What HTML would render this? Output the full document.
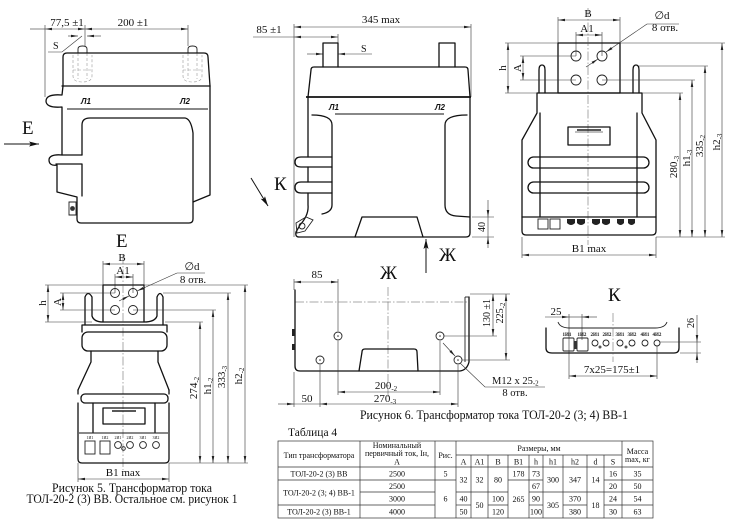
<!DOCTYPE html>
<html><head><meta charset="utf-8"><style>
html,body{margin:0;padding:0;background:#fff}
svg{display:block}
.o{fill:none;stroke:#111;stroke-width:1.3;stroke-linejoin:round;stroke-linecap:round}
.t{fill:none;stroke:#222;stroke-width:0.9}
.d{fill:none;stroke:#333;stroke-width:0.6}
.c{fill:none;stroke:#555;stroke-width:0.5;stroke-dasharray:9 2 1.5 2}
.h{fill:none;stroke:#999;stroke-width:0.6;stroke-dasharray:3 2}
.g{fill:none;stroke:#333;stroke-width:0.7}
text{font-family:"Liberation Serif",serif;fill:#111}
.l{font-family:"Liberation Sans",sans-serif;font-weight:bold;font-style:italic;font-size:8px}
.tb{font-size:8px;text-anchor:middle}
</style></head><body>
<svg width="732" height="528" viewBox="0 0 732 528" xmlns="http://www.w3.org/2000/svg">
<defs>
<marker id="a" viewBox="0 0 10 4" refX="10" refY="2" markerWidth="7" markerHeight="2.8" orient="auto-start-reverse" markerUnits="userSpaceOnUse"><path d="M0,0.2 L10,2 L0,3.8z" fill="#222"/></marker>
<marker id="b" viewBox="0 0 10 5" refX="10" refY="2.5" markerWidth="10" markerHeight="5" orient="auto-start-reverse" markerUnits="userSpaceOnUse"><path d="M0,0 L10,2.5 L0,5 L2,2.5z" fill="#111"/></marker>
</defs>

<!-- ============ TOP-LEFT FIGURE ============ -->
<line class="d" x1="30" y1="29" x2="45" y2="29"/>
<line class="d" x1="45" y1="29" x2="85" y2="29" marker-start="url(#a)" marker-end="url(#a)"/>
<line class="d" x1="85" y1="29" x2="188" y2="29" marker-start="url(#a)" marker-end="url(#a)"/>
<line class="d" x1="45" y1="25" x2="45" y2="97"/>
<line class="d" x1="85" y1="25" x2="85" y2="46"/>
<line class="d" x1="188" y1="25" x2="188" y2="46"/>
<text x="67" y="26" font-size="11" text-anchor="middle">77,5 ±1</text>
<text x="133" y="26" font-size="11" text-anchor="middle">200 ±1</text>
<line class="d" x1="68" y1="36" x2="78" y2="36" marker-end="url(#a)"/>
<line class="d" x1="101" y1="36" x2="87" y2="36" marker-end="url(#a)"/>
<polyline class="d" points="48,52 62,52 82,36"/>
<text x="53" y="49" font-size="10">S</text>
<!-- terminals -->
<path class="t" d="M78,53 L78,49 Q78,46 82.5,46 Q87,46 87,49 L87,53"/>
<path class="h" d="M78,53 L78,79 M87,53 L87,79 M73,55 L73,76 Q73,82 82,82 Q92,82 92,76 L92,55 M73,70 L92,70"/>
<path class="t" d="M188,53 L188,49 Q188,46 192.5,46 Q197,46 197,49 L197,53"/>
<path class="h" d="M188,53 L188,79 M197,53 L197,79 M183,55 L183,76 Q183,82 192,82 Q202,82 202,76 L202,55 M183,70 L202,70"/>
<!-- body -->
<path class="o" d="M63,86 L63,57 Q63,53 67,53 L204,53 Q208,53 208,57 L210,86"/>
<line class="o" x1="62" y1="86" x2="210" y2="86"/>
<path class="o" d="M63,86 L62,95 C50,94 46,97 46,101 C46,105 50,108 62,107 L62,155 C52,154 49,157 49,160 C49,164 52,166 57,165 L57,192 L77,197 L77,219 Q77,223 81,223 L189,223 Q193,223 193,219 L193,202 L210,195 L210,86"/>
<line class="o" x1="62" y1="155" x2="82" y2="155"/>
<path class="o" d="M56,164 L82,164 L82,196"/>
<path class="o" d="M82,155 L82,125 Q82,118 90,118 L185,118 Q191,119 193,133 L193,202"/>
<line x1="67" y1="109" x2="208" y2="109" stroke="#111" stroke-width="1"/>
<text class="l" x="81" y="104">Л1</text>
<text class="l" x="180" y="104">Л2</text>
<path class="t" d="M69,202 L76,202 L76,215 L69,215 Z"/>
<circle cx="72.5" cy="208.5" r="2.4" fill="#333"/>
<text x="22" y="134" font-size="19">Е</text>
<line x1="4" y1="144" x2="39" y2="144" stroke="#111" stroke-width="1" marker-end="url(#b)"/>
<text x="116" y="247" font-size="19">Е</text>

<!-- ============ TOP-MIDDLE FIGURE ============ -->
<line class="d" x1="294" y1="27" x2="471" y2="27" marker-start="url(#a)" marker-end="url(#a)"/>
<text x="381" y="23" font-size="11" text-anchor="middle">345 max</text>
<line class="d" x1="253" y1="37" x2="294" y2="37"/>
<line class="d" x1="294" y1="37" x2="338" y2="37" marker-start="url(#a)" marker-end="url(#a)"/>
<text x="269" y="33" font-size="11" text-anchor="middle">85 ±1</text>
<line class="d" x1="294" y1="24" x2="294" y2="237"/>
<line class="d" x1="471" y1="24" x2="471" y2="97"/>
<line class="d" x1="338" y1="34" x2="338" y2="43"/>
<line class="d" x1="307" y1="54" x2="323" y2="54" marker-end="url(#a)"/>
<line class="d" x1="372" y1="54" x2="338" y2="54" marker-end="url(#a)"/>
<text x="361" y="52" font-size="10">S</text>
<path class="o" d="M323,67 L323,43 L338,43 L338,67"/>
<path class="o" d="M439,67 L439,43 L455,43 L455,67"/>
<path class="o" d="M308,97 L311,70 Q311,67 314,67 L465,67 Q468,67 468,70 L470,97"/>
<line x1="306" y1="97" x2="471" y2="97" stroke="#111" stroke-width="1.8"/>
<path class="o" d="M308,97 L308,157 M308,167 L308,182 M308,193 L308,205 Q309,215 300,225 L296,232 Q295,237 299,237 L466,237 Q470,237 470,233 L470,97"/>
<path class="o" d="M332,157 L301,157 Q295,157 295,162 Q295,167 301,167 L332,167"/>
<path class="o" d="M332,182 L301,182 Q295,182 295,187.5 Q295,193 301,193 L332,193"/>
<path class="o" d="M312,115 Q332,115 332,125 L332,205 Q332,212 322,214"/>
<path class="o" d="M467,115 Q445,115 445,125 L445,205 Q445,215 456,216 L470,217"/>
<path class="o" d="M355,237 L362,217 L417,217 L423,237"/>
<line x1="335" y1="114" x2="444" y2="114" stroke="#111" stroke-width="1"/>
<text class="l" x="329" y="110">Л1</text>
<text class="l" x="435" y="110">Л2</text>
<path class="t" d="M296,223 L306,217 L313,220 L305,231 L297,233 Z"/>
<circle cx="302" cy="226" r="3" class="t"/>
<line class="d" x1="472" y1="217" x2="494" y2="217"/>
<line class="d" x1="472" y1="237" x2="494" y2="237"/>
<line class="d" x1="488" y1="200" x2="488" y2="217" marker-end="url(#a)"/>
<line class="d" x1="488" y1="217" x2="488" y2="237"/>
<line class="d" x1="488" y1="248" x2="488" y2="237" marker-end="url(#a)"/>
<text transform="translate(485,227) rotate(-90)" font-size="10" text-anchor="middle">40</text>
<text x="274" y="190" font-size="19">К</text>
<line x1="251" y1="178" x2="268" y2="206" stroke="#111" stroke-width="1" marker-end="url(#b)"/>
<line x1="426" y1="273" x2="426" y2="239" stroke="#111" stroke-width="1" marker-end="url(#b)"/>
<text x="439" y="261" font-size="19">Ж</text>

<!-- ============ TOP-RIGHT FIGURE ============ -->
<line class="d" x1="558" y1="20" x2="620" y2="20" marker-start="url(#a)" marker-end="url(#a)"/>
<text x="588" y="17" font-size="11" text-anchor="middle">B</text>
<line class="d" x1="558" y1="17" x2="558" y2="43"/>
<line class="d" x1="620" y1="17" x2="620" y2="43"/>
<line class="d" x1="576" y1="35" x2="602" y2="35" marker-start="url(#a)" marker-end="url(#a)"/>
<text x="587" y="32" font-size="11" text-anchor="middle">A1</text>
<line class="d" x1="576" y1="32" x2="576" y2="56"/>
<line class="d" x1="602" y1="32" x2="602" y2="56"/>
<text x="662" y="19" font-size="11" text-anchor="middle">∅d</text>
<text x="665" y="31" font-size="11" text-anchor="middle">8 отв.</text>
<line class="d" x1="647" y1="24" x2="679" y2="24"/>
<line class="d" x1="647" y1="24" x2="606" y2="52" marker-end="url(#a)"/>
<line class="d" x1="586" y1="67" x2="598" y2="59" marker-end="url(#a)"/>
<rect class="o" x="558" y="43" width="62" height="50"/>
<circle class="t" cx="576" cy="56" r="5"/><circle class="t" cx="602" cy="56" r="5"/>
<circle class="t" cx="576" cy="80" r="5"/><circle class="t" cx="602" cy="80" r="5"/>
<line class="c" x1="588" y1="8" x2="588" y2="245"/>
<path class="o" d="M539,93 L539,70 Q539,65 542,65 Q545,65 545,70 L545,93"/>
<path class="o" d="M633,93 L633,70 Q633,65 636,65 Q639,65 639,70 L639,93"/>
<path class="o" d="M537,93 L537,113 L522,140 L522,231 Q522,235 526,235 L652,235 Q656,235 656,231 L656,140 L642,113 L642,93 Z"/>
<line class="o" x1="540" y1="113" x2="540" y2="217"/>
<line class="o" x1="637" y1="113" x2="637" y2="217"/>
<rect class="o" x="528" y="157" width="121" height="11" rx="5.5" fill="#fff"/>
<rect class="o" x="528" y="182" width="121" height="11" rx="5.5" fill="#fff"/>
<line class="o" x1="522" y1="217" x2="656" y2="217"/>
<rect class="o" x="568" y="127" width="42" height="18"/>
<line x1="577" y1="130" x2="601" y2="130" stroke="#222" stroke-width="1.5"/>
<line x1="575" y1="132" x2="603" y2="132" stroke="#555" stroke-width="0.8"/>
<g fill="#222">
<rect x="538" y="219" width="10" height="10" fill="none" stroke="#222" stroke-width="0.9"/>
<rect x="550" y="219" width="10" height="10" fill="none" stroke="#222" stroke-width="0.9"/>
<path d="M567,219 h8 v4 q-4,4 -8,0z"/><path d="M577,219 h8 v4 q-4,4 -8,0z"/>
<path d="M592,219 h8 v4 q-4,4 -8,0z"/><path d="M602,219 h8 v4 q-4,4 -8,0z"/>
<path d="M617,219 h7 v4 q-3.5,4 -7,0z"/><path d="M628,219 h7 v4 q-3.5,4 -7,0z"/>
</g>
<line class="d" x1="505" y1="43" x2="558" y2="43"/>
<line class="d" x1="505" y1="93" x2="537" y2="93"/>
<line class="d" x1="520" y1="56" x2="576" y2="56"/>
<line class="d" x1="520" y1="80" x2="576" y2="80"/>
<line class="d" x1="508" y1="43" x2="508" y2="93" marker-start="url(#a)" marker-end="url(#a)"/>
<line class="d" x1="523" y1="56" x2="523" y2="80" marker-start="url(#a)" marker-end="url(#a)"/>
<text transform="translate(506,68) rotate(-90)" font-size="11" text-anchor="middle">h</text>
<text transform="translate(521,68) rotate(-90)" font-size="11" text-anchor="middle">A</text>
<line class="d" x1="620" y1="43" x2="725" y2="43"/>
<line class="d" x1="639" y1="66" x2="708" y2="66"/>
<line class="d" x1="602" y1="80" x2="695" y2="80"/>
<line class="d" x1="642" y1="93" x2="683" y2="93"/>
<line class="d" x1="656" y1="237" x2="725" y2="237"/>
<line class="d" x1="680" y1="93" x2="680" y2="237" marker-start="url(#a)" marker-end="url(#a)"/>
<line class="d" x1="692" y1="80" x2="692" y2="237" marker-start="url(#a)" marker-end="url(#a)"/>
<line class="d" x1="705" y1="66" x2="705" y2="237" marker-start="url(#a)" marker-end="url(#a)"/>
<line class="d" x1="722" y1="43" x2="722" y2="237" marker-start="url(#a)" marker-end="url(#a)"/>
<text transform="translate(677,167) rotate(-90)" font-size="11" text-anchor="middle">280<tspan font-size="7" dy="2">-3</tspan></text>
<text transform="translate(690,158) rotate(-90)" font-size="11" text-anchor="middle">h1<tspan font-size="7" dy="2">-3</tspan></text>
<text transform="translate(703,146) rotate(-90)" font-size="11" text-anchor="middle">335<tspan font-size="7" dy="2">-2</tspan></text>
<text transform="translate(720,142) rotate(-90)" font-size="11" text-anchor="middle">h2<tspan font-size="7" dy="2">-3</tspan></text>
<line class="d" x1="522" y1="237" x2="522" y2="258"/>
<line class="d" x1="656" y1="237" x2="656" y2="258"/>
<line class="d" x1="522" y1="255" x2="656" y2="255" marker-start="url(#a)" marker-end="url(#a)"/>
<text x="589" y="252" font-size="11" text-anchor="middle">B1 max</text>

<!-- ============ BOTTOM-LEFT FIGURE ============ -->
<line class="d" x1="103" y1="264" x2="144" y2="264" marker-start="url(#a)" marker-end="url(#a)"/>
<text x="122" y="261" font-size="11" text-anchor="middle">B</text>
<line class="d" x1="103" y1="261" x2="103" y2="285"/>
<line class="d" x1="144" y1="261" x2="144" y2="285"/>
<line class="d" x1="115" y1="277" x2="133" y2="277" marker-start="url(#a)" marker-end="url(#a)"/>
<text x="123" y="274" font-size="11" text-anchor="middle">A1</text>
<line class="d" x1="115" y1="274" x2="115" y2="293"/>
<line class="d" x1="133" y1="274" x2="133" y2="293"/>
<text x="192" y="270" font-size="11" text-anchor="middle">∅d</text>
<text x="193" y="283" font-size="11" text-anchor="middle">8 отв.</text>
<line class="d" x1="177" y1="273" x2="205" y2="273"/>
<line class="d" x1="177" y1="273" x2="137" y2="291" marker-end="url(#a)"/>
<line class="d" x1="119" y1="301" x2="129" y2="296" marker-end="url(#a)"/>
<rect class="o" x="103" y="285" width="41" height="37"/>
<circle class="t" cx="115" cy="293" r="4.5"/><circle class="t" cx="133" cy="293" r="4.5"/>
<circle class="t" cx="115" cy="310" r="4.5"/><circle class="t" cx="133" cy="310" r="4.5"/>
<line class="c" x1="123" y1="255" x2="123" y2="470"/>
<path class="o" d="M85,325 L85,297 Q88,290 92,297 L92,316 Q94,322 103,322"/>
<path class="o" d="M163,325 L163,297 Q160,290 157,297 L157,316 Q155,322 144,322"/>
<path class="o" d="M82,332 L82,325 L167,325 L167,332"/>
<rect class="o" x="82" y="332" width="85" height="19" rx="6"/>
<path class="o" d="M91,351 L91,362 L78,390 M158,351 L158,362 L169,390"/>
<rect class="o" x="81" y="394" width="87" height="9" rx="4"/>
<path class="o" d="M78,390 L78,394 M169,390 L169,394 M78,403 L78,459 Q78,463 82,463 L165,463 Q169,463 169,459 L169,403"/>
<line class="o" x1="93" y1="403" x2="93" y2="432"/>
<line class="o" x1="155" y1="403" x2="155" y2="432"/>
<rect class="o" x="103" y="408" width="42" height="16"/>
<line x1="112" y1="411" x2="136" y2="411" stroke="#222" stroke-width="1.5"/>
<line x1="79" y1="433" x2="168" y2="433" stroke="#111" stroke-width="0.9"/>
<g stroke="#222" stroke-width="0.9" fill="none">
<rect x="85" y="441" width="10" height="13"/><rect x="100" y="441" width="10" height="13"/>
<circle cx="118" cy="445" r="3.4"/><circle cx="130" cy="445" r="3.4"/><circle cx="143" cy="445" r="3.4"/><circle cx="156" cy="445" r="3.4"/>
<circle cx="123.5" cy="448.5" r="1.8"/>
</g>
<text x="90" y="439" font-size="4" text-anchor="middle">1И1</text>
<text x="105" y="439" font-size="4" text-anchor="middle">1И2</text>
<text x="118" y="439" font-size="4" text-anchor="middle">2И1</text>
<text x="130" y="439" font-size="4" text-anchor="middle">2И2</text>
<text x="143" y="439" font-size="4" text-anchor="middle">3И1</text>
<text x="156" y="439" font-size="4" text-anchor="middle">3И2</text>
<line class="d" x1="45" y1="285" x2="103" y2="285"/>
<line class="d" x1="45" y1="322" x2="92" y2="322"/>
<line class="d" x1="60" y1="293" x2="115" y2="293"/>
<line class="d" x1="60" y1="310" x2="115" y2="310"/>
<line class="d" x1="48" y1="285" x2="48" y2="322" marker-start="url(#a)" marker-end="url(#a)"/>
<line class="d" x1="63" y1="293" x2="63" y2="310" marker-start="url(#a)" marker-end="url(#a)"/>
<text transform="translate(46,303) rotate(-90)" font-size="11" text-anchor="middle">h</text>
<text transform="translate(61,302) rotate(-90)" font-size="11" text-anchor="middle">A</text>
<line class="d" x1="144" y1="285" x2="248" y2="285"/>
<line class="d" x1="163" y1="293" x2="231" y2="293"/>
<line class="d" x1="133" y1="310" x2="216" y2="310"/>
<line class="d" x1="165" y1="322" x2="203" y2="322"/>
<line class="d" x1="169" y1="463" x2="248" y2="463"/>
<line class="d" x1="200" y1="322" x2="200" y2="463" marker-start="url(#a)" marker-end="url(#a)"/>
<line class="d" x1="213" y1="310" x2="213" y2="463" marker-start="url(#a)" marker-end="url(#a)"/>
<line class="d" x1="228" y1="293" x2="228" y2="463" marker-start="url(#a)" marker-end="url(#a)"/>
<line class="d" x1="245" y1="285" x2="245" y2="463" marker-start="url(#a)" marker-end="url(#a)"/>
<text transform="translate(197,388) rotate(-90)" font-size="11" text-anchor="middle">274<tspan font-size="7" dy="2">-2</tspan></text>
<text transform="translate(211,386) rotate(-90)" font-size="11" text-anchor="middle">h1<tspan font-size="7" dy="2">-2</tspan></text>
<text transform="translate(225,377) rotate(-90)" font-size="11" text-anchor="middle">333<tspan font-size="7" dy="2">-3</tspan></text>
<text transform="translate(242,376) rotate(-90)" font-size="11" text-anchor="middle">h2<tspan font-size="7" dy="2">-2</tspan></text>
<line class="d" x1="78" y1="463" x2="78" y2="482"/>
<line class="d" x1="169" y1="463" x2="169" y2="482"/>
<line class="d" x1="78" y1="479" x2="169" y2="479" marker-start="url(#a)" marker-end="url(#a)"/>
<text x="123" y="476" font-size="11" text-anchor="middle">B1 max</text>
<text x="132" y="492" font-size="12.5" text-anchor="middle" textLength="160" lengthAdjust="spacingAndGlyphs">Рисунок 5. Трансформатор тока</text>
<text x="132" y="503" font-size="12.5" text-anchor="middle" textLength="211" lengthAdjust="spacingAndGlyphs">ТОЛ-20-2 (3) ВВ. Остальное см. рисунок 1</text>

<!-- ============ BOTTOM-MIDDLE FIGURE ============ -->
<text x="380" y="279" font-size="19">Ж</text>
<line class="d" x1="294" y1="282" x2="338" y2="282" marker-start="url(#a)" marker-end="url(#a)"/>
<text x="317" y="278" font-size="11" text-anchor="middle">85</text>
<line class="d" x1="294" y1="279" x2="294" y2="290"/>
<line class="d" x1="338" y1="279" x2="338" y2="331"/>
<line class="c" x1="295" y1="302" x2="467" y2="302"/>
<line class="c" x1="388" y1="287" x2="388" y2="397"/>
<path class="o" d="M295,290 L295,366 Q295,371 300,371 L460,371 Q467,370 469,362 L469,297"/>
<line class="t" x1="465" y1="297" x2="465" y2="362"/>
<line class="t" x1="465" y1="297" x2="469" y2="297"/>
<rect x="292" y="329" width="3" height="7" fill="#222"/>
<rect x="292" y="344" width="3" height="6" fill="#222"/>
<path class="o" d="M359,371 L362,352 Q362,349 365,349 L414,349 Q417,349 417,352 L418,371"/>
<g class="t"><circle cx="338" cy="336" r="4"/><circle cx="440" cy="336" r="4"/><circle cx="320" cy="360" r="4"/><circle cx="458" cy="360" r="4"/></g>
<g fill="#333"><circle cx="338" cy="336" r="0.8"/><circle cx="440" cy="336" r="0.8"/><circle cx="320" cy="360" r="0.8"/><circle cx="458" cy="360" r="0.8"/></g>
<line class="d" x1="338" y1="341" x2="338" y2="395"/>
<line class="d" x1="440" y1="341" x2="440" y2="395"/>
<line class="d" x1="320" y1="365" x2="320" y2="407"/>
<line class="d" x1="458" y1="365" x2="458" y2="407"/>
<line class="d" x1="294" y1="372" x2="294" y2="407"/>
<line class="d" x1="338" y1="392" x2="440" y2="392" marker-start="url(#a)" marker-end="url(#a)"/>
<text x="386" y="389" font-size="11" text-anchor="middle">200<tspan font-size="7" dy="2">-2</tspan></text>
<line class="d" x1="278" y1="404" x2="294" y2="404" marker-end="url(#a)"/>
<line class="d" x1="294" y1="404" x2="320" y2="404"/>
<line class="d" x1="320" y1="404" x2="458" y2="404" marker-start="url(#a)" marker-end="url(#a)"/>
<text x="307" y="402" font-size="11" text-anchor="middle">50</text>
<text x="385" y="402" font-size="11" text-anchor="middle">270<tspan font-size="7" dy="2">-3</tspan></text>
<line class="d" x1="470" y1="294" x2="510" y2="294"/>
<line class="d" x1="444" y1="336" x2="497" y2="336"/>
<line class="d" x1="462" y1="360" x2="510" y2="360"/>
<line class="d" x1="493" y1="294" x2="493" y2="336" marker-start="url(#a)" marker-end="url(#a)"/>
<line class="d" x1="506" y1="294" x2="506" y2="360" marker-start="url(#a)" marker-end="url(#a)"/>
<text transform="translate(490,313) rotate(-90)" font-size="10" text-anchor="middle">130 ±1</text>
<text transform="translate(503,313) rotate(-90)" font-size="10" text-anchor="middle">225<tspan font-size="7" dy="2">-2</tspan></text>
<line class="d" x1="443" y1="343" x2="455" y2="356" marker-end="url(#a)"/>
<polyline class="d" points="460,363 485,387 545,387"/>
<text x="492" y="384" font-size="10.5">M12 x 25<tspan font-size="7" dy="1.5">-2</tspan></text>
<text x="515" y="396" font-size="10.5" text-anchor="middle">8 отв.</text>
<text x="494" y="419" font-size="12.5" text-anchor="middle" textLength="268" lengthAdjust="spacingAndGlyphs">Рисунок 6. Трансформатор тока ТОЛ-20-2 (3; 4) ВВ-1</text>

<!-- ============ BOTTOM-RIGHT FIGURE ============ -->
<text x="608" y="301" font-size="19">К</text>
<line class="d" x1="545" y1="317" x2="569" y2="317" marker-end="url(#a)"/>
<line class="d" x1="597" y1="317" x2="582" y2="317" marker-end="url(#a)"/>
<line class="d" x1="569" y1="317" x2="582" y2="317"/>
<text x="556" y="315" font-size="11" text-anchor="middle">25</text>
<line class="d" x1="569" y1="314" x2="569" y2="379"/>
<line class="d" x1="582" y1="314" x2="582" y2="340"/>
<path class="o" d="M546,328 L546,348 Q546,353 552,353 L674,353 Q679,353 679,348 L679,328"/>
<path class="t" d="M558,322 Q560,328 570,328 L655,328 Q665,328 667,322"/>
<line class="c" x1="613" y1="313" x2="613" y2="362"/>
<g font-size="5" font-weight="bold" text-anchor="middle" font-family="Liberation Sans, sans-serif">
<text x="567" y="336">1И1</text><text x="582" y="336">1И2</text><text x="595" y="336">2И1</text><text x="607" y="336">2И2</text>
<text x="620" y="336">3И1</text><text x="632" y="336">3И2</text><text x="645" y="336">4И1</text><text x="657" y="336">4И2</text>
</g>
<g stroke="#222" stroke-width="0.9" fill="none">
<rect x="563" y="338" width="11" height="13" rx="1"/><rect x="577" y="338" width="11" height="13" rx="1"/>
<circle cx="595" cy="343" r="3"/><circle cx="606" cy="343" r="3"/><circle cx="620" cy="343" r="3"/>
<circle cx="632" cy="343" r="3"/><circle cx="645" cy="343" r="3"/><circle cx="657" cy="343" r="3"/>
</g>
<rect x="574" y="341" width="3" height="8" fill="#333"/>
<circle cx="600" cy="347" r="1.5" fill="#555"/><circle cx="626" cy="347" r="1.5" fill="#555"/>
<line class="d" x1="657" y1="346" x2="657" y2="379"/>
<line class="d" x1="660" y1="342" x2="701" y2="342"/>
<line class="d" x1="680" y1="353" x2="701" y2="353"/>
<line class="d" x1="697" y1="315" x2="697" y2="342" marker-end="url(#a)"/>
<line class="d" x1="697" y1="342" x2="697" y2="353"/>
<line class="d" x1="697" y1="363" x2="697" y2="353" marker-end="url(#a)"/>
<text transform="translate(694,323) rotate(-90)" font-size="10" text-anchor="middle">26</text>
<line class="d" x1="569" y1="376" x2="657" y2="376" marker-start="url(#a)" marker-end="url(#a)"/>
<text x="612" y="373" font-size="11" text-anchor="middle">7x25=175±1</text>

<!-- ============ TABLE ============ -->
<text x="288" y="436" font-size="11.5">Таблица 4</text>
<g stroke="#333" stroke-width="0.7" fill="none">
<rect x="278" y="441" width="375" height="77"/>
<line x1="456" y1="455" x2="622" y2="455"/>
<line x1="278" y1="467" x2="653" y2="467"/>
<line x1="360" y1="441" x2="360" y2="518"/>
<line x1="435" y1="441" x2="435" y2="518"/>
<line x1="456" y1="441" x2="456" y2="518"/>
<line x1="622" y1="441" x2="622" y2="518"/>
<line x1="471" y1="455" x2="471" y2="518"/>
<line x1="488" y1="455" x2="488" y2="518"/>
<line x1="508" y1="455" x2="508" y2="518"/>
<line x1="529" y1="455" x2="529" y2="518"/>
<line x1="543" y1="455" x2="543" y2="518"/>
<line x1="563" y1="455" x2="563" y2="518"/>
<line x1="587" y1="455" x2="587" y2="518"/>
<line x1="604" y1="455" x2="604" y2="518"/>
<line x1="278" y1="480" x2="456" y2="480"/>
<line x1="508" y1="480" x2="543" y2="480"/>
<line x1="604" y1="480" x2="653" y2="480"/>
<line x1="360" y1="492" x2="435" y2="492"/>
<line x1="456" y1="492" x2="508" y2="492"/>
<line x1="529" y1="492" x2="653" y2="492"/>
<line x1="278" y1="505" x2="435" y2="505"/>
<line x1="456" y1="505" x2="471" y2="505"/>
<line x1="488" y1="505" x2="508" y2="505"/>
<line x1="529" y1="505" x2="543" y2="505"/>
<line x1="563" y1="505" x2="587" y2="505"/>
<line x1="604" y1="505" x2="653" y2="505"/>
</g>
<g class="tb">
<text x="319" y="458" class="tb">Тип трансформатора</text>
<text x="397" y="448" class="tb">Номинальный</text>
<text x="397" y="456" class="tb">первичный ток, Iн,</text>
<text x="397" y="464.5" class="tb">А</text>
<text x="445.5" y="458" class="tb">Рис.</text>
<text x="539" y="451" class="tb">Размеры, мм</text>
<text x="637.5" y="454" class="tb">Масса</text>
<text x="637.5" y="462" class="tb">max, кг</text>
<text x="463.5" y="464.5" class="tb">A</text><text x="479.5" y="464.5" class="tb">A1</text>
<text x="498" y="464.5" class="tb">B</text><text x="518.5" y="464.5" class="tb">B1</text>
<text x="536" y="464.5" class="tb">h</text><text x="553" y="464.5" class="tb">h1</text>
<text x="575" y="464.5" class="tb">h2</text><text x="595.5" y="464.5" class="tb">d</text>
<text x="613" y="464.5" class="tb">S</text>
<text x="319" y="476.5" class="tb">ТОЛ-20-2 (3) ВВ</text>
<text x="319" y="495.5" class="tb">ТОЛ-20-2 (3; 4)  ВВ-1</text>
<text x="319" y="514.5" class="tb">ТОЛ-20-2 (3)  ВВ-1</text>
<text x="397" y="476.5" class="tb">2500</text><text x="397" y="489" class="tb">2500</text>
<text x="397" y="501.5" class="tb">3000</text><text x="397" y="514.5" class="tb">4000</text>
<text x="445.5" y="476.5" class="tb">5</text><text x="445.5" y="501.5" class="tb">6</text>
<text x="463.5" y="482.5" class="tb">32</text><text x="463.5" y="501.5" class="tb">40</text><text x="463.5" y="514.5" class="tb">50</text>
<text x="479.5" y="482.5" class="tb">32</text><text x="479.5" y="508" class="tb">50</text>
<text x="498" y="482.5" class="tb">80</text><text x="498" y="501.5" class="tb">100</text><text x="498" y="514.5" class="tb">120</text>
<text x="518.5" y="476.5" class="tb">178</text><text x="518.5" y="502" class="tb">265</text>
<text x="536" y="476.5" class="tb">73</text><text x="536" y="489" class="tb">67</text><text x="536" y="501.5" class="tb">90</text><text x="536" y="514.5" class="tb">100</text>
<text x="553" y="482.5" class="tb">300</text><text x="553" y="508" class="tb">305</text>
<text x="575" y="482.5" class="tb">347</text><text x="575" y="501.5" class="tb">370</text><text x="575" y="514.5" class="tb">380</text>
<text x="595.5" y="482.5" class="tb">14</text><text x="595.5" y="508" class="tb">18</text>
<text x="613" y="476.5" class="tb">16</text><text x="613" y="489" class="tb">20</text><text x="613" y="501.5" class="tb">24</text><text x="613" y="514.5" class="tb">30</text>
<text x="637.5" y="476.5" class="tb">35</text><text x="637.5" y="489" class="tb">50</text><text x="637.5" y="501.5" class="tb">54</text><text x="637.5" y="514.5" class="tb">63</text>
</g>
</svg>
</body></html>
